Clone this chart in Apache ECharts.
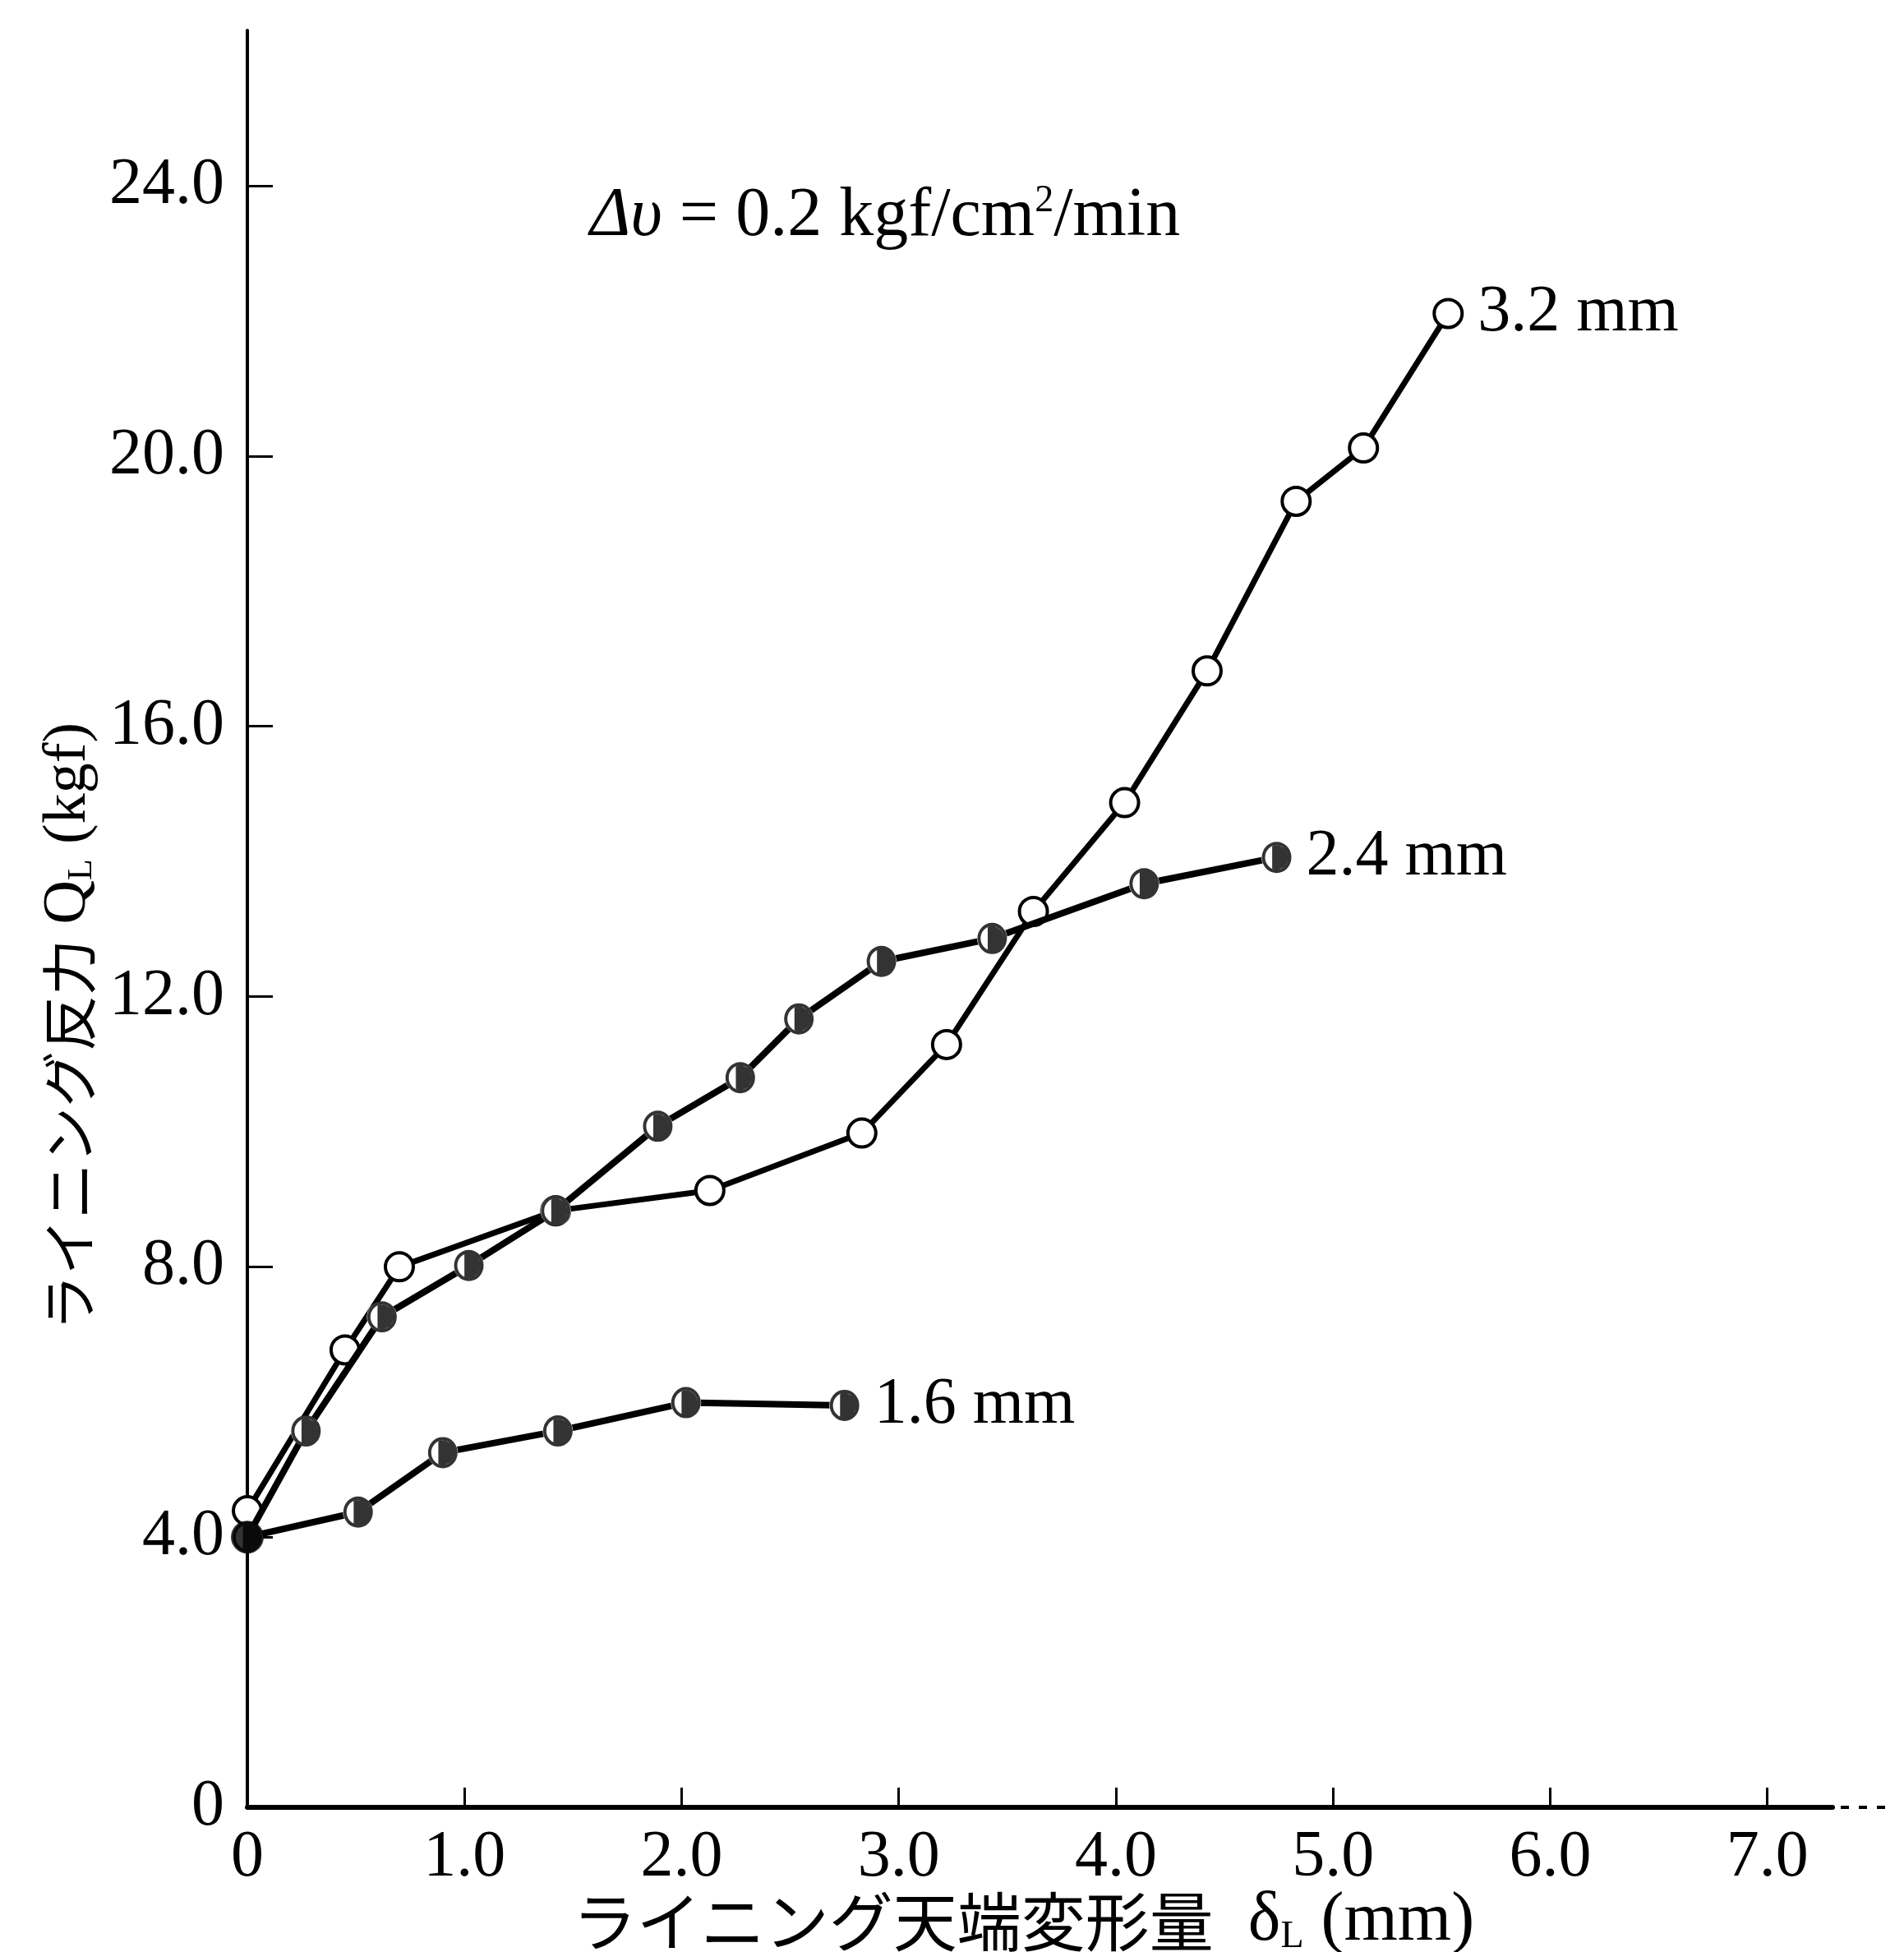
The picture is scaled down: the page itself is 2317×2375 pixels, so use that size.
<!DOCTYPE html>
<html><head><meta charset="utf-8">
<script src="https://cdn.jsdelivr.net/npm/echarts@6/dist/echarts.min.js"></script>
<style>html,body{margin:0;padding:0;background:#fff}#c{width:2317px;height:2375px}</style>
</head><body><div id="c"></div>
<script>
// ---- tick values / labels ----
const xTicks = [0, 1, 2, 3, 4, 5, 6, 7];
const xTickLabels = ['0', '1.0', '2.0', '3.0', '4.0', '5.0', '6.0', '7.0'];
const yTicks = [0, 4, 8, 12, 16, 20, 24];
const yTickLabels = ['0', '4.0', '8.0', '12.0', '16.0', '20.0', '24.0'];

// ---- series: 3.2 mm (open circles) ----
const s32x = [0, 0.45, 0.70, 1.42, 2.13, 2.83, 3.22, 3.62, 4.04, 4.42, 4.83, 5.14, 5.53];
const s32y = [4.39, 6.77, 8.00, 8.83, 9.13, 9.98, 11.29, 13.26, 14.87, 16.82, 19.33, 20.12, 22.11];
// ---- series: 2.4 mm (half-filled) ----
const s24x = [0, 0.27, 0.62, 1.02, 1.42, 1.89, 2.27, 2.54, 2.92, 3.43, 4.13, 4.74];
const s24y = [4.0, 5.57, 7.26, 8.02, 8.83, 10.08, 10.8, 11.67, 12.52, 12.86, 13.67, 14.06];
// ---- series: 1.6 mm (half-filled) ----
const s16x = [0, 0.51, 0.90, 1.43, 2.02, 2.75];
const s16y = [4.0, 4.37, 5.25, 5.57, 5.99, 5.95];

const seriesNames = ['3.2 mm', '2.4 mm', '1.6 mm'];
const xName = ['ライニング天端変形量', 'δ', 'L', ' (mm)'];
const yName = ['ライニング反力', 'Q', 'L', ' (kgf)'];
const note = ['Δυ', ' = 0.2 kgf/cm', '2', '/min'];

const SERIF = '"Liberation Serif", "Times New Roman", serif';
const CJK = '"Noto Sans CJK JP", sans-serif';

function zip(a, b) { return a.map((v, i) => [v, b[i]]); }

// ring + mostly-black right part (symbol for the half-filled markers)
const HALF = 'path://M0 10 A10 10 0 1 1 20 10 A10 10 0 1 1 0 10 Z M2.2 10 A7.8 7.8 0 1 0 17.8 10 A7.8 7.8 0 1 0 2.2 10 Z M7 2.8 A7.8 7.8 0 1 1 7 17.2 Z';

const endLbl = (txt) => ({
  show: true, formatter: txt, distance: 36,
  fontSize: 80, fontFamily: SERIF, color: '#000'
});

const chart = echarts.init(document.getElementById('c'), null, { renderer: 'canvas' });

const option = {
  backgroundColor: '#fff',
  animation: false,
  grid: { left: 301, right: 87, top: 37, bottom: 176, containLabel: false, outerBoundsMode: 'none' },
  xAxis: {
    type: 'value', min: 0, max: 7.3, interval: 1,
    axisLine: { show: true, lineStyle: { color: '#000', width: 6 } },
    axisTick: { show: true, inside: true, length: 24, customValues: xTicks, lineStyle: { color: '#000', width: 3 } },
    axisLabel: {
      show: true, customValues: xTicks, margin: 22,
      formatter: v => xTickLabels[xTicks.indexOf(Math.round(v))] || '',
      fontSize: 80, fontFamily: SERIF, color: '#000'
    },
    splitLine: { show: false },
    name: '{c|' + xName[0] + '}{l|  ' + xName[1] + '}{s|' + xName[2] + '}{l|' + xName[3] + '}',
    nameLocation: 'middle', nameGap: 97, nameMoveOverlap: false,
    nameTextStyle: {
      padding: [0, 40, 0, 0],
      rich: {
        c: { fontSize: 78, fontFamily: CJK, color: '#000' },
        l: { fontSize: 84, fontFamily: SERIF, color: '#000' },
        s: { fontSize: 46, fontFamily: SERIF, color: '#000', verticalAlign: 'bottom', padding: [26, 0, 0, 0] }
      }
    }
  },
  yAxis: {
    type: 'value', min: 0, max: 26.3, interval: 4,
    axisLine: { show: true, lineStyle: { color: '#000', width: 4 } },
    axisTick: { show: true, inside: true, length: 31, customValues: yTicks, lineStyle: { color: '#000', width: 3 } },
    axisLabel: {
      show: true, customValues: yTicks, margin: 28,
      formatter: v => yTickLabels[yTicks.indexOf(Math.round(v))] || '',
      fontSize: 80, fontFamily: SERIF, color: '#000'
    },
    splitLine: { show: false },
    name: '{c|' + yName[0] + '}{l| ' + yName[1] + '}{s|' + yName[2] + '}{l|' + yName[3] + '}',
    nameLocation: 'middle', nameRotate: 90, nameGap: 180, nameMoveOverlap: false,
    nameTextStyle: {
      padding: [0, 262, 0, 0],
      rich: {
        c: { fontSize: 68, fontFamily: CJK, color: '#000' },
        l: { fontSize: 74, fontFamily: SERIF, color: '#000' },
        s: { fontSize: 42, fontFamily: SERIF, color: '#000', verticalAlign: 'bottom', padding: [28, 0, 0, 0] }
      }
    }
  },
  series: [
    {
      type: 'line', name: seriesNames[0], data: zip(s32x, s32y),
      symbol: 'circle', symbolSize: 34, showSymbol: true,
      itemStyle: { color: '#fff', borderColor: '#000', borderWidth: 4 },
      lineStyle: { color: '#000', width: 7 },
      endLabel: endLbl(seriesNames[0]), z: 2
    },
    {
      type: 'line', name: seriesNames[1], data: zip(s24x, s24y),
      symbol: 'circle', symbolSize: 37, showSymbol: true,
      itemStyle: { color: '#fff', borderWidth: 0 },
      lineStyle: { color: '#000', width: 8 },
      endLabel: endLbl(seriesNames[1]), z: 3
    },
    {
      type: 'line', name: seriesNames[2], data: zip(s16x, s16y),
      symbol: 'circle', symbolSize: 37, showSymbol: true,
      itemStyle: { color: '#fff', borderWidth: 0 },
      lineStyle: { color: '#000', width: 8 },
      endLabel: endLbl(seriesNames[2]), z: 3
    },
    {
      type: 'scatter', data: zip(s24x, s24y), symbol: HALF, symbolSize: [36, 38],
      itemStyle: { color: '#000' }, z: 4, silent: true
    },
    {
      type: 'scatter',
      data: zip(s16x, s16y).map((p, i) => i === 0 ? { value: p, symbol: 'circle', symbolSize: 40 } : p),
      symbol: HALF, symbolSize: [36, 38],
      itemStyle: { color: '#000' }, z: 4, silent: true
    }
  ],
  graphic: [
    {
      type: 'text', x: 718, y: 264, z: 10,
      style: {
        text: '{i|' + note[0] + '}{n|' + note[1] + '}{p|' + note[2] + '}{n|' + note[3] + '}',
        align: 'left', verticalAlign: 'middle',
        rich: {
          i: { fontSize: 84, fontFamily: SERIF, fontStyle: 'italic', fill: '#000' },
          n: { fontSize: 84, fontFamily: SERIF, fill: '#000' },
          p: { fontSize: 46, fontFamily: SERIF, fill: '#000', verticalAlign: 'top', padding: [0, 0, 32, 0] }
        }
      }
    }
  ]
};
chart.setOption(option);

// short dashed continuation past the end of the x axis
const pEnd = chart.convertToPixel({ xAxisIndex: 0, yAxisIndex: 0 }, [7.3, 0]);
chart.setOption({
  graphic: [
    option.graphic[0],
    {
      type: 'line', z: 10,
      shape: { x1: pEnd[0] + 10, y1: pEnd[1], x2: pEnd[0] + 70, y2: pEnd[1] },
      style: { stroke: '#000', lineWidth: 4, lineDash: [10, 12] }
    }
  ]
});
</script>
</body></html>
